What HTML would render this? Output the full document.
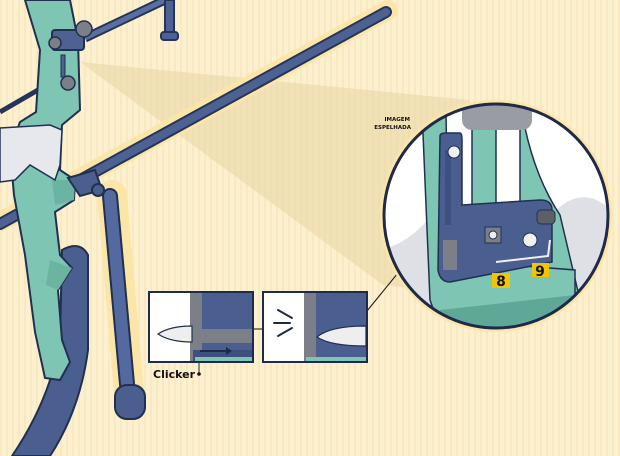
<!DOCTYPE html>
<html><head><meta charset="utf-8"><style>
html,body{margin:0;padding:0;background:#fdf0cf;}
svg{display:block}
text{font-family:"DejaVu Sans","Liberation Sans",sans-serif;font-weight:bold}
</style></head><body>
<svg width="620" height="456" viewBox="0 0 620 456" xmlns="http://www.w3.org/2000/svg">
<defs>
<pattern id="st" width="6" height="6" patternUnits="userSpaceOnUse"><rect width="6" height="6" fill="#fdf0cf"/><rect width="2" height="6" fill="#f9e9c3"/></pattern>
<clipPath id="cc"><circle cx="496" cy="216" r="112"/></clipPath>
<clipPath id="b1"><rect x="150" y="293" width="102" height="68"/></clipPath>
<clipPath id="b2"><rect x="264" y="293" width="102" height="68"/></clipPath>
</defs>
<rect width="620" height="456" fill="url(#st)"/>
<!-- shadow cone -->
<polygon points="80,62 470,100 430,290 383,285" fill="#e9d7a6" opacity="0.6"/>
<!-- glow outlines -->
<g stroke="#fbe6a8" stroke-linecap="round" fill="none">
<line x1="0" y1="222" x2="388" y2="10" stroke-width="20"/>
<line x1="112" y1="195" x2="130" y2="405" stroke-width="30"/>
</g>
<!-- long rod -->
<line x1="0" y1="224" x2="386" y2="12" stroke="#25355a" stroke-width="12" stroke-linecap="round"/>
<line x1="0" y1="224" x2="386" y2="12" stroke="#4d6293" stroke-width="8" stroke-linecap="round"/>
<!-- top bars -->
<line x1="85" y1="38" x2="165" y2="0" stroke="#25355a" stroke-width="9"/>
<line x1="85" y1="38" x2="165" y2="0" stroke="#5a6f9f" stroke-width="5"/>
<rect x="165" y="0" width="9" height="34" fill="#4d6293" stroke="#25355a" stroke-width="2"/>
<rect x="161" y="32" width="17" height="8" rx="3" fill="#4d6293" stroke="#25355a" stroke-width="2"/>
<line x1="0" y1="112" x2="38" y2="90" stroke="#25355a" stroke-width="5"/>
<!-- lower limb -->
<path d="M62,250 Q80,240 88,255 L88,350 Q80,410 50,456 L12,456 Q50,400 60,340 Z" fill="#4a5f8f" stroke="#22304f" stroke-width="2"/>
<!-- riser -->
<path d="M25,0 L70,0 L78,40 L80,110 L62,125 L60,170 L75,180 L74,200 L55,212 L60,255 L72,268 L58,290 L62,340 L70,362 L60,380 L45,378 L35,332 L25,255 L14,195 L10,150 L20,122 L36,112 L40,50 Z" fill="#7ec5b3" stroke="#22304f" stroke-width="2"/>
<path d="M50,260 L72,268 L58,290 L46,285 Z" fill="#6cb4a2"/>
<path d="M52,180 L75,180 L74,200 L55,205 Z" fill="#6cb4a2"/>
<!-- sight block -->
<rect x="52" y="30" width="32" height="20" rx="3" fill="#4d6293" stroke="#22304f" stroke-width="2"/>
<circle cx="55" cy="43" r="6" fill="#7a7f88" stroke="#22304f" stroke-width="1.5"/>
<circle cx="84" cy="29" r="8" fill="#7a7f88" stroke="#22304f" stroke-width="1.5"/>
<rect x="61" y="55" width="4" height="22" fill="#4d6293" stroke="#22304f"/>
<circle cx="68" cy="83" r="7" fill="#7a7f88" stroke="#22304f" stroke-width="1.5"/>
<!-- glove -->
<path d="M0,128 L50,125 L62,130 L60,165 L55,180 L30,165 L15,180 L0,182 Z" fill="#e6e8ee" stroke="#22304f" stroke-width="1.5"/>
<!-- v-bar rod -->
<line x1="110" y1="196" x2="128" y2="395" stroke="#22304f" stroke-width="16" stroke-linecap="round"/>
<line x1="110" y1="196" x2="128" y2="395" stroke="#5369a0" stroke-width="12" stroke-linecap="round"/>
<rect x="115" y="385" width="30" height="34" rx="12" fill="#4a5f8f" stroke="#22304f" stroke-width="2"/>
<path d="M68,178 L95,170 L102,190 L80,196 Z" fill="#4a5f8f" stroke="#22304f" stroke-width="2"/>
<circle cx="98" cy="190" r="6" fill="#4a5f8f" stroke="#22304f" stroke-width="2"/>
<!-- connector line -->
<line x1="367" y1="311" x2="437" y2="225" stroke="#111" stroke-width="1"/>
<line x1="252" y1="329" x2="264" y2="329" stroke="#111" stroke-width="1"/>
<!-- circle -->
<circle cx="496" cy="216" r="116" fill="#fbe6a8"/>
<g clip-path="url(#cc)">
<rect x="380" y="100" width="240" height="240" fill="#ffffff"/>
<path d="M380,250 Q420,240 440,200 L440,340 L380,340 Z" fill="#dfe0e6"/>
<path d="M540,230 Q580,170 620,220 L620,340 L540,340 Z" fill="#dfe0e6"/>
<path d="M520,100 Q530,170 560,215 L580,300 L520,300 Z" fill="#7ec5b3" stroke="#22304f" stroke-width="1.5"/>
<rect x="472" y="120" width="24" height="100" fill="#7ec5b3" stroke="#22304f" stroke-width="1.5"/>
<rect x="462" y="100" width="70" height="30" rx="10" fill="#9a9ca3"/>
<path d="M422,110 L446,110 L448,260 L575,270 L575,310 L500,330 L440,328 L430,300 Z" fill="#7ec5b3" stroke="#22304f" stroke-width="1.5"/>
<path d="M440,310 L575,295 L575,310 L500,328 L440,326 Z" fill="#5fa898"/>
<path d="M440,136 Q440,133 446,133 L460,133 Q462,133 462,140 L462,205 L540,200 Q552,200 552,210 L552,262 L450,282 Q440,282 438,270 Z" fill="#4a5f8f" stroke="#22304f" stroke-width="1.5"/>
<rect x="445" y="150" width="6" height="75" fill="#3e5080"/>
<rect x="443" y="240" width="14" height="30" fill="#7a7f88"/>
<circle cx="454" cy="152" r="6" fill="#f1f1f1" stroke="#22304f" stroke-width="1"/>
<rect x="485" y="227" width="16" height="16" fill="#7a7f88" stroke="#22304f"/>
<circle cx="493" cy="235" r="4" fill="#eee" stroke="#22304f"/>
<circle cx="530" cy="240" r="7" fill="#f1f1f1" stroke="#22304f"/>
<rect x="537" y="210" width="18" height="14" rx="4" fill="#5a5f68" stroke="#22304f"/>
<path d="M496,262 L548,256 L550,240" stroke="#f1f1f1" stroke-width="2" fill="none"/>
<rect x="492" y="273" width="18" height="15" fill="#f2c500"/>
<text x="501" y="286" font-size="14" text-anchor="middle" fill="#111">8</text>
<rect x="532" y="263" width="17" height="14" fill="#f2c500"/>
<text x="540" y="276" font-size="14" text-anchor="middle" fill="#111">9</text>
</g>
<circle cx="496" cy="216" r="112" fill="none" stroke="#1f2a4a" stroke-width="3"/>
<text x="410" y="121" font-size="5.5" text-anchor="end" fill="#111">IMAGEM</text>
<text x="411" y="129" font-size="5.5" text-anchor="end" fill="#111">ESPELHADA</text>
<!-- inset 1 -->
<rect x="148" y="291" width="106" height="72" fill="#fbe6a8"/>
<g clip-path="url(#b1)">
<rect x="150" y="293" width="102" height="68" fill="#ffffff"/>
<rect x="190" y="293" width="62" height="68" fill="#4a5f8f"/>
<rect x="190" y="293" width="12" height="68" fill="#7a7f88"/>
<rect x="200" y="329" width="52" height="14" fill="#7a7f88"/>
<path d="M158,334 Q170,326 192,326 L192,342 Q170,342 158,334 Z" fill="#eeeeee" stroke="#22304f" stroke-width="1.2"/>
<rect x="193" y="350" width="59" height="11" fill="#3e5080"/>
<rect x="195" y="357" width="57" height="4" fill="#7ec5b3"/>
<line x1="200" y1="351" x2="226" y2="351" stroke="#1f2a4a" stroke-width="2"/>
<polygon points="226,347 232,351 226,355" fill="#1f2a4a"/>
</g>
<rect x="149" y="292" width="104" height="70" fill="none" stroke="#1f2a4a" stroke-width="2"/>
<line x1="199" y1="362" x2="199" y2="374" stroke="#333" stroke-width="1"/>
<circle cx="199" cy="374" r="1.8" fill="#111"/>
<text x="153" y="378" font-size="11" fill="#111">Clicker</text>
<!-- inset 2 -->
<rect x="262" y="291" width="106" height="72" fill="#fbe6a8"/>
<g clip-path="url(#b2)">
<rect x="264" y="293" width="102" height="68" fill="#ffffff"/>
<rect x="304" y="293" width="62" height="68" fill="#4a5f8f"/>
<rect x="304" y="293" width="12" height="68" fill="#7a7f88"/>
<path d="M317,337 Q330,326 366,326 L366,346 Q330,346 317,337 Z" fill="#eeeeee" stroke="#22304f" stroke-width="1.2"/>
<rect x="306" y="357" width="60" height="4" fill="#7ec5b3"/>
<g stroke="#1f2a4a" stroke-width="2" stroke-linecap="round">
<line x1="278" y1="310" x2="292" y2="318"/><line x1="274" y1="323" x2="290" y2="323"/><line x1="278" y1="336" x2="292" y2="328"/>
</g>
</g>
<rect x="263" y="292" width="104" height="70" fill="none" stroke="#1f2a4a" stroke-width="2"/>
</svg>
</body></html>
